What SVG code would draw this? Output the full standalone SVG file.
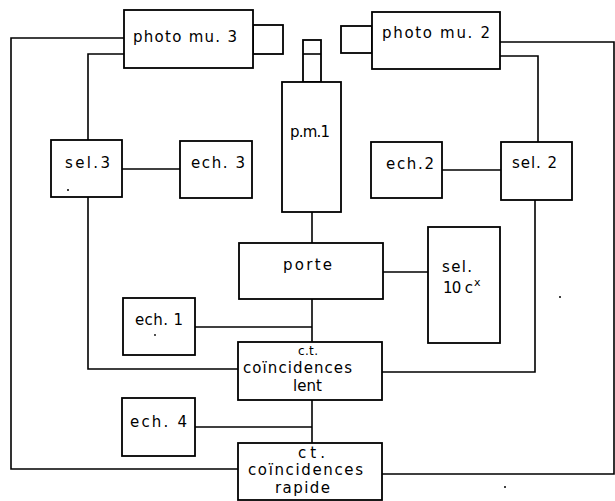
<svg xmlns="http://www.w3.org/2000/svg" width="615" height="501" viewBox="0 0 615 501">
<style>
.b{fill:#fff;stroke:#000;stroke-width:1.8}
.c{fill:none;stroke:#000;stroke-width:1.6}
text{font-family:"DejaVu Sans","Liberation Sans",sans-serif;font-size:15px;fill:#000}
.s{font-size:12px}
.d{fill:#000}
</style>
<rect width="615" height="501" fill="#fff"/>
<g id="connectors">
<polyline class="c" points="124,38 11,38 11,469 238,469"/>
<polyline class="c" points="124,54 88,54 88,140"/>
<polyline class="c" points="88,197 88,369 238,369"/>
<line class="c" x1="122" y1="169" x2="180" y2="169"/>
<polyline class="c" points="500,42 614,42 614,474 382,474"/>
<polyline class="c" points="500,56 538,56 538,142"/>
<polyline class="c" points="535,200 535,372 382,372"/>
<line class="c" x1="442" y1="170" x2="501" y2="170"/>
<line class="c" x1="312" y1="212" x2="312" y2="243"/>
<line class="c" x1="383" y1="272" x2="428" y2="272"/>
<line class="c" x1="312" y1="299" x2="312" y2="342"/>
<line class="c" x1="195" y1="327" x2="312" y2="327"/>
<line class="c" x1="312" y1="400" x2="312" y2="443"/>
<line class="c" x1="195" y1="427" x2="312" y2="427"/>
</g>
<g id="photo3">
<rect class="b" x="253" y="25" width="30" height="29"/>
<rect class="b" x="124" y="10" width="129" height="58"/>
<text x="133" y="42" textLength="104" lengthAdjust="spacing">photo mu. 3</text>
</g>
<g id="photo2">
<rect class="b" x="341" y="26" width="31" height="27"/>
<rect class="b" x="372" y="12" width="128" height="57"/>
<text x="382" y="38" textLength="108" lengthAdjust="spacing">photo mu. 2</text>
</g>
<g id="pm1">
<rect class="b" x="303" y="40" width="18" height="42"/>
<line class="c" x1="303" y1="54" x2="321" y2="54"/>
<rect class="b" x="282" y="82" width="59" height="130"/>
<text x="290" y="137" textLength="40" lengthAdjust="spacing">p.m.1</text>
</g>
<g id="sel3">
<rect class="b" x="51" y="140" width="71" height="57"/>
<text x="65" y="168" textLength="45" lengthAdjust="spacing">sel.3</text>
<circle class="d" cx="68" cy="190" r="1"/>
</g>
<g id="ech3">
<rect class="b" x="180" y="141" width="72" height="57"/>
<text x="191" y="168" textLength="54" lengthAdjust="spacing">ech. 3</text>
</g>
<g id="ech2">
<rect class="b" x="371" y="142" width="71" height="56"/>
<text x="386" y="169" textLength="48" lengthAdjust="spacing">ech.2</text>
</g>
<g id="sel2">
<rect class="b" x="501" y="142" width="71" height="58"/>
<text x="512" y="168" textLength="45" lengthAdjust="spacing">sel. 2</text>
</g>
<g id="porte">
<rect class="b" x="239" y="243" width="144" height="56"/>
<text x="283" y="270" textLength="49" lengthAdjust="spacing">porte</text>
</g>
<g id="sel10">
<rect class="b" x="428" y="227" width="72" height="116"/>
<text x="442" y="272" textLength="30" lengthAdjust="spacing">sel.</text>
<text x="443" y="293" textLength="30" lengthAdjust="spacing">10 c</text>
<text x="474" y="286" style="font-size:11px">x</text>
</g>
<g id="ech1">
<rect class="b" x="123" y="298" width="72" height="57"/>
<text x="135" y="325" textLength="48" lengthAdjust="spacing">ech. 1</text>
<circle class="d" cx="155" cy="335" r="0.9"/>
</g>
<g id="lent">
<rect class="b" x="238" y="342" width="144" height="58"/>
<text class="s" x="298" y="355" textLength="20" lengthAdjust="spacing">c.t.</text>
<text x="243" y="373" textLength="109" lengthAdjust="spacing">coïncidences</text>
<text x="293" y="391" textLength="29" lengthAdjust="spacing">lent</text>
</g>
<g id="ech4">
<rect class="b" x="122" y="398" width="73" height="58"/>
<text x="130" y="427" textLength="57" lengthAdjust="spacing">ech. 4</text>
</g>
<g id="rapide">
<rect class="b" x="238" y="443" width="144" height="57"/>
<text x="298" y="458" textLength="27" lengthAdjust="spacing">c t .</text>
<text x="248" y="475" textLength="115" lengthAdjust="spacing">coïncidences</text>
<text x="275" y="493" textLength="55" lengthAdjust="spacing">rapide</text>
</g>
<circle class="d" cx="560" cy="297" r="1"/>
<circle class="d" cx="505" cy="487" r="1"/>
</svg>
